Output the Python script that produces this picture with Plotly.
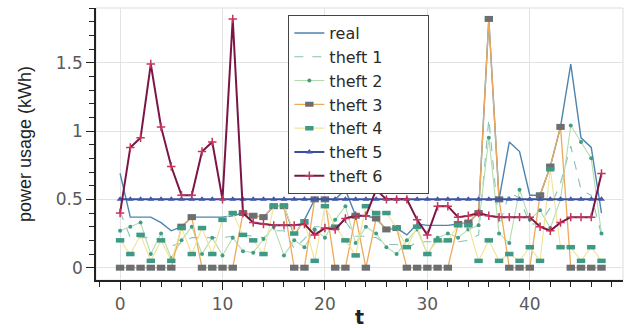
import plotly.graph_objects as go

t = list(range(48))

real = [0.69, 0.37, 0.37, 0.37, 0.33, 0.27, 0.30, 0.37, 0.37, 0.37, 0.37, 0.38,
        0.40, 0.38, 0.37, 0.45, 0.45, 0.24, 0.35, 0.50, 0.50, 0.50, 0.57, 0.38,
        0.38, 0.36, 0.28, 0.29, 0.24, 0.32, 0.31, 0.31, 0.31, 0.32, 0.33, 0.40,
        1.82, 0.50, 0.92, 0.85, 0.53, 0.53, 0.74, 1.03, 1.49, 0.95, 0.88, 0.40]

theft1 = [0.41, 0.22, 0.22, 0.22, 0.20, 0.16, 0.18, 0.22, 0.22, 0.22, 0.22, 0.23,
          0.24, 0.23, 0.22, 0.27, 0.27, 0.14, 0.21, 0.30, 0.30, 0.30, 0.34, 0.23,
          0.23, 0.22, 0.17, 0.17, 0.14, 0.19, 0.19, 0.19, 0.19, 0.19, 0.20, 0.24,
          1.09, 0.30, 0.55, 0.51, 0.32, 0.32, 0.44, 0.62, 0.89, 0.57, 0.53, 0.24]

theft2 = [0.27, 0.30, 0.33, 0.10, 0.25, 0.07, 0.20, 0.30, 0.10, 0.22, 0.09, 0.22,
          0.12, 0.11, 0.21, 0.30, 0.09, 0.20, 0.15, 0.28, 0.22, 0.35, 0.45, 0.18,
          0.30, 0.25, 0.15, 0.10, 0.20, 0.28, 0.10, 0.22, 0.25, 0.22, 0.28, 0.31,
          0.95, 0.25, 0.18, 0.57, 0.35, 0.42, 0.29, 0.50, 1.04, 0.92, 0.80, 0.25]

theft3 = [0.00, 0.00, 0.00, 0.00, 0.00, 0.00, 0.30, 0.37, 0.00, 0.00, 0.00, 0.00,
          0.40, 0.38, 0.37, 0.45, 0.45, 0.00, 0.00, 0.50, 0.50, 0.00, 0.00, 0.38,
          0.00, 0.36, 0.28, 0.29, 0.00, 0.00, 0.00, 0.00, 0.00, 0.32, 0.33, 0.40,
          1.82, 0.50, 0.00, 0.00, 0.00, 0.53, 0.74, 1.03, 0.00, 0.00, 0.00, 0.00]

theft4 = [0.20, 0.10, 0.24, 0.05, 0.20, 0.05, 0.29, 0.10, 0.29, 0.10, 0.35, 0.40,
          0.24, 0.20, 0.10, 0.45, 0.45, 0.25, 0.34, 0.05, 0.45, 0.30, 0.20, 0.09,
          0.45, 0.40, 0.40, 0.29, 0.15, 0.30, 0.10, 0.20, 0.20, 0.31, 0.31, 0.05,
          0.20, 0.05, 0.10, 0.05, 0.15, 0.05, 0.72, 0.15, 0.15, 0.05, 0.15, 0.05]

theft5 = [0.50] * 48

theft6 = [0.40, 0.88, 0.95, 1.49, 1.03, 0.74, 0.53, 0.53, 0.85, 0.92, 0.50, 1.82,
          0.40, 0.33, 0.32, 0.31, 0.31, 0.31, 0.32, 0.24, 0.29, 0.28, 0.36, 0.38,
          0.38, 0.57, 0.50, 0.50, 0.50, 0.35, 0.24, 0.45, 0.45, 0.37, 0.38, 0.40,
          0.38, 0.37, 0.37, 0.37, 0.37, 0.30, 0.27, 0.33, 0.37, 0.37, 0.37, 0.69]

x_ticks = [0, 10, 20, 30, 40]
y_ticks = [0, 0.5, 1, 1.5]
y_tick_labels = ["0", "0.5", "1", "1.5"]

PAD = "\u00a0" * 8  # widens the legend box like the reference

fig = go.Figure()

fig.add_trace(go.Scatter(x=t, y=real, name="real", mode="lines",
                         line=dict(color="#4d84b0", width=1.4)))
fig.add_trace(go.Scatter(x=t, y=theft1, name="theft 1" + PAD, mode="lines",
                         line=dict(color="#86c2b4", width=1.1, dash="dash")))
fig.add_trace(go.Scatter(x=t, y=theft2, name="theft 2", mode="lines+markers",
                         line=dict(color="#b3dcae", width=1.1),
                         marker=dict(symbol="circle", size=4, color="#3f9d88")))
fig.add_trace(go.Scatter(x=t, y=theft3, name="theft 3", mode="lines+markers",
                         line=dict(color="#eeaa5a", width=1.3),
                         marker=dict(symbol="line-ew", size=6,
                                     line=dict(color="#6c6f70", width=6))))
fig.add_trace(go.Scatter(x=t, y=theft4, name="theft 4", mode="lines+markers",
                         line=dict(color="#f1e394", width=1.1),
                         marker=dict(symbol="line-ew", size=6,
                                     line=dict(color="#3c9a86", width=4.5))))
fig.add_trace(go.Scatter(x=t, y=theft5, name="theft 5", mode="lines+markers",
                         line=dict(color="#3c4f9e", width=2),
                         marker=dict(symbol="triangle-up", size=6, color="#3f5aa8")))
fig.add_trace(go.Scatter(x=t, y=theft6, name="theft 6", mode="lines+markers",
                         line=dict(color="#7a1646", width=2),
                         marker=dict(symbol="cross-thin", size=6,
                                     line=dict(color="#c8345a", width=1.5))))

axis_common = dict(
    showline=True, linecolor="#222222", linewidth=1.5,
    ticks="outside", ticklen=8, tickwidth=1.2, tickcolor="#222222",
    showgrid=True, gridcolor="#e3e3e3", gridwidth=1,
    zeroline=False, automargin=False,
    tickfont=dict(family="DejaVu Sans", size=17, color="#5a5a5a"),
)

fig.update_xaxes(
    range=[-2.35, 49.1], tickvals=x_ticks,
    minor=dict(dtick=2, tick0=0, ticks="outside", ticklen=5, tickcolor="#222222",
               showgrid=False),
    title=dict(text="<b>t</b>", font=dict(family="DejaVu Sans", size=19, color="#222222"),
               standoff=4),
    **axis_common,
)
fig.update_yaxes(
    range=[-0.09, 1.9], tickvals=y_ticks, ticktext=y_tick_labels,
    minor=dict(dtick=0.1, tick0=0, ticks="outside", ticklen=5, tickcolor="#222222",
               showgrid=False),
    title=dict(text="power usage (kWh)",
               font=dict(family="Liberation Sans", size=18, color="#222222"),
               standoff=20),
    **axis_common,
)

fig.add_shape(type="rect", xref="paper", yref="paper", x0=0, y0=0, x1=1, y1=1,
              line=dict(color="#dddddd", width=1), layer="below")

fig.update_layout(
    width=634, height=328,
    margin=dict(l=96, r=11, t=8, b=48),
    paper_bgcolor="white", plot_bgcolor="white",
    showlegend=True,
    legend=dict(x=0.365, y=0.974, xanchor="left", yanchor="top",
                bgcolor="white", bordercolor="#444444", borderwidth=1,
                font=dict(family="DejaVu Sans", size=16, color="#2a2a2a")),
)

fig.write_html("out.html")
